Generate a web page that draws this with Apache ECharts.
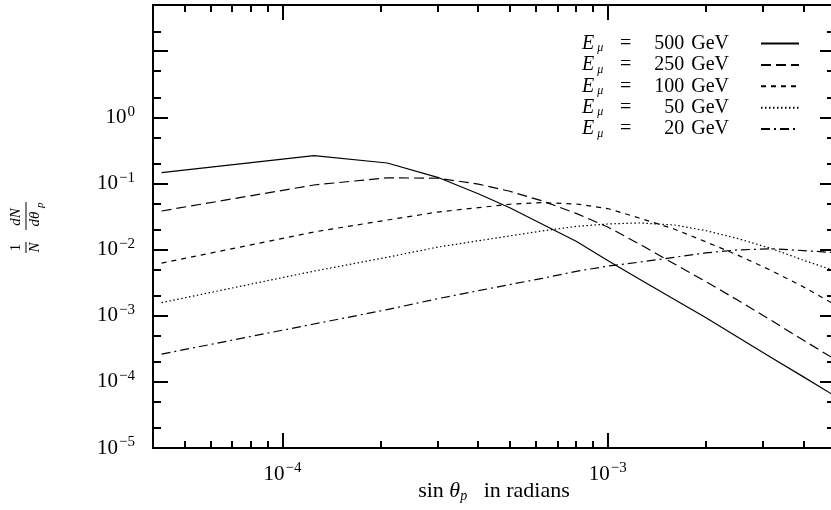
<!DOCTYPE html>
<html>
<head>
<meta charset="utf-8">
<script src="https://cdn.jsdelivr.net/npm/echarts@6.0.0/dist/echarts.min.js"></script>
<style>
  html, body { margin: 0; padding: 0; background: #fff; }
  #chart { width: 831px; height: 510px; }
</style>
</head>
<body>
<div id="chart"></div>
<script>
// sin(theta_p) sample points (radians)
var sinTheta = [4.25e-5, 1.25e-4, 2.1e-4, 3e-4, 4e-4, 5e-4, 6.3e-4, 8e-4, 1e-3, 1.25e-3, 1.6e-3, 2e-3, 2.5e-3, 3.2e-3, 4e-3, 5e-3];

// 1/N dN/dtheta_p for each muon energy
var e500 = [0.146, 0.263, 0.204, 0.124, 0.0699, 0.043, 0.0242, 0.0134, 0.00687, 0.0036, 0.00178, 0.00094, 0.00048, 0.00023, 0.000119, 0.000061];
var e250 = [0.0384, 0.0949, 0.122, 0.120, 0.098, 0.0762, 0.0544, 0.0353, 0.0220, 0.0122, 0.00612, 0.0033, 0.00174, 0.00084, 0.000425, 0.000219];
var e100 = [0.00623, 0.0185, 0.028, 0.037, 0.0431, 0.0485, 0.0513, 0.049, 0.0418, 0.0301, 0.0205, 0.01316, 0.00834, 0.00477, 0.00273, 0.00147];
var e50 = [0.00158, 0.00473, 0.00767, 0.0109, 0.0136, 0.0161, 0.0192, 0.0224, 0.0244, 0.0253, 0.0236, 0.0194, 0.0148, 0.0103, 0.0069, 0.00477];
var e20 = [0.000263, 0.00075, 0.00124, 0.00181, 0.00239, 0.00296, 0.00368, 0.00469, 0.00563, 0.00645, 0.00764, 0.0089, 0.0099, 0.0103, 0.00966, 0.0090];

var energies = ['500', '250', '100', '50', '20'];

// tick positions
var xMajorTicks = [1e-4, 1e-3];
var xMinorTicks = [5e-5, 6e-5, 7e-5, 8e-5, 9e-5, 2e-4, 3e-4, 4e-4, 5e-4, 6e-4, 7e-4, 8e-4, 9e-4, 2e-3, 3e-3, 4e-3];
var yMajorTicks = [1e-5, 1e-4, 1e-3, 1e-2, 1e-1, 1, 10];
var yMinorTicks = [2e-5, 5e-5, 2e-4, 5e-4, 2e-3, 5e-3, 2e-2, 5e-2, 0.2, 0.5, 2, 5, 20];
var yLabelTicks = [1e-5, 1e-4, 1e-3, 1e-2, 1e-1, 1];

var serif = "'Liberation Serif', 'DejaVu Serif', serif";

function pow10Label(v) {
  var p = Math.round(Math.log10(v));
  return '{b|10}{e|' + (p < 0 ? '\u2212' + (-p) : p) + '}';
}

var powRich = {
  b: { fontFamily: serif, fontSize: 21, color: '#000' },
  e: { fontFamily: serif, fontSize: 15, color: '#000', padding: [0, 0, 11, 1] }
};

function makeAxis(dir, pos, ticks, len, labels) {
  var ax = {
    type: 'log',
    logBase: 10,
    position: pos,
    min: dir === 'x' ? 4e-5 : 1e-5,
    max: dir === 'x' ? 5e-3 : 50,
    axisLine: { show: true, onZero: false, lineStyle: { color: '#000', width: 2 } },
    axisTick: { show: true, inside: true, length: len, customValues: ticks, lineStyle: { color: '#000', width: 2 } },
    axisLabel: { show: false },
    splitLine: { show: false },
    minorTick: { show: false }
  };
  if (labels) {
    ax.axisLabel = {
      show: true,
      customValues: labels,
      formatter: pow10Label,
      margin: dir === 'x' ? 13 : 18,
      color: '#000',
      fontFamily: serif,
      rich: powRich
    };
  }
  return ax;
}

var xMain = makeAxis('x', 'bottom', xMajorTicks, 15, xMajorTicks);
xMain.name = '{r|sin }{i|\u03b8}{s|p}{r|   in radians}';
xMain.nameLocation = 'middle';
xMain.nameGap = 32;
xMain.nameMoveOverlap = false;
xMain.nameTextStyle = {
  color: '#000',
  rich: {
    r: { fontFamily: serif, fontSize: 22, color: '#000' },
    i: { fontFamily: serif, fontSize: 22, fontStyle: 'italic', color: '#000' },
    s: { fontFamily: serif, fontSize: 14, fontStyle: 'italic', color: '#000', padding: [9, 0, 0, 0] }
  }
};

var dashTypes = ['solid', [10, 5], [5, 5], [1.5, 2.5], [9, 4, 2, 4]];
var seriesData = [e500, e250, e100, e50, e20];

var lg = { fontFamily: serif, fontSize: 20, color: '#000', lineHeight: 21 };
function lgStyle(extra) {
  return Object.assign({}, lg, extra);
}

var chart = echarts.init(document.getElementById('chart'));
chart.setOption({
  animation: false,
  backgroundColor: '#fff',
  grid: { left: 153, top: 5, width: 682, height: 443, containLabel: false, outerBoundsMode: 'none' },
  xAxis: [
    xMain,
    makeAxis('x', 'bottom', xMinorTicks, 7),
    makeAxis('x', 'top', xMajorTicks, 15),
    makeAxis('x', 'top', xMinorTicks, 7)
  ],
  yAxis: [
    makeAxis('y', 'left', yMajorTicks, 15, yLabelTicks),
    makeAxis('y', 'left', yMinorTicks, 8),
    makeAxis('y', 'right', yMajorTicks, 15),
    makeAxis('y', 'right', yMinorTicks, 8)
  ],
  legend: {
    orient: 'vertical',
    right: 31,
    top: 33,
    align: 'right',
    itemWidth: 38,
    itemHeight: 14,
    itemGap: 0.4,
    padding: 0,
    selectedMode: false,
    itemStyle: { opacity: 0 },
    data: energies,
    formatter: function (name) {
      var gap = name.length < 3 ? 'g2' : 'g3';
      return '{e|E}{mu|\u03bc}{eq|=}{' + gap + '| }{n|' + name + '}{sp| }{u|GeV}{t| }';
    },
    textStyle: {
      color: '#000',
      fontFamily: serif,
      fontSize: 20,
      rich: {
        e: lgStyle({ fontStyle: 'italic', width: 13 }),
        mu: lgStyle({ fontSize: 12, fontStyle: 'italic', width: 9, padding: [9, 0, 0, 0] }),
        eq: lgStyle({ width: 28 }),
        g3: lgStyle({ width: 23 }),
        g2: lgStyle({ width: 33 }),
        n: lgStyle({}),
        sp: lgStyle({ width: 7 }),
        u: lgStyle({}),
        t: lgStyle({ width: 27 })
      }
    }
  },
  graphic: [{
    type: 'group',
    x: 26,
    y: 227,
    rotation: Math.PI / 2,
    silent: true,
    children: [
      { type: 'text', x: -20.5, y: -2, style: { text: '1', font: "15px 'Liberation Serif'", fill: '#000', align: 'center', verticalAlign: 'bottom' } },
      { type: 'line', shape: { x1: -26, y1: 0, x2: -15, y2: 0 }, style: { stroke: '#000', lineWidth: 1 } },
      { type: 'text', x: -20.5, y: 2, style: { text: 'N', font: "italic 15px 'Liberation Serif'", fill: '#000', align: 'center', verticalAlign: 'top' } },
      { type: 'text', x: 10, y: -2, style: { text: 'dN', font: "italic 15px 'Liberation Serif'", fill: '#000', align: 'center', verticalAlign: 'bottom' } },
      { type: 'line', shape: { x1: -3, y1: 0, x2: 25, y2: 0 }, style: { stroke: '#000', lineWidth: 1 } },
      { type: 'text', x: 8, y: 2, style: { text: 'd\u03b8', font: "italic 15px 'Liberation Serif'", fill: '#000', align: 'center', verticalAlign: 'top' } },
      { type: 'text', x: 19, y: 9, style: { text: 'p', font: "italic 11px 'Liberation Serif'", fill: '#000', align: 'left', verticalAlign: 'top' } }
    ]
  }],
  series: energies.map(function (name, k) {
    return {
      name: name,
      type: 'line',
      xAxisIndex: 0,
      yAxisIndex: 0,
      symbol: 'none',
      silent: true,
      itemStyle: { color: '#000' },
      data: sinTheta.map(function (x, i) { return [x, seriesData[k][i]]; }),
      lineStyle: { color: '#000', width: 1.2, type: dashTypes[k] }
    };
  })
});
</script>
</body>
</html>
